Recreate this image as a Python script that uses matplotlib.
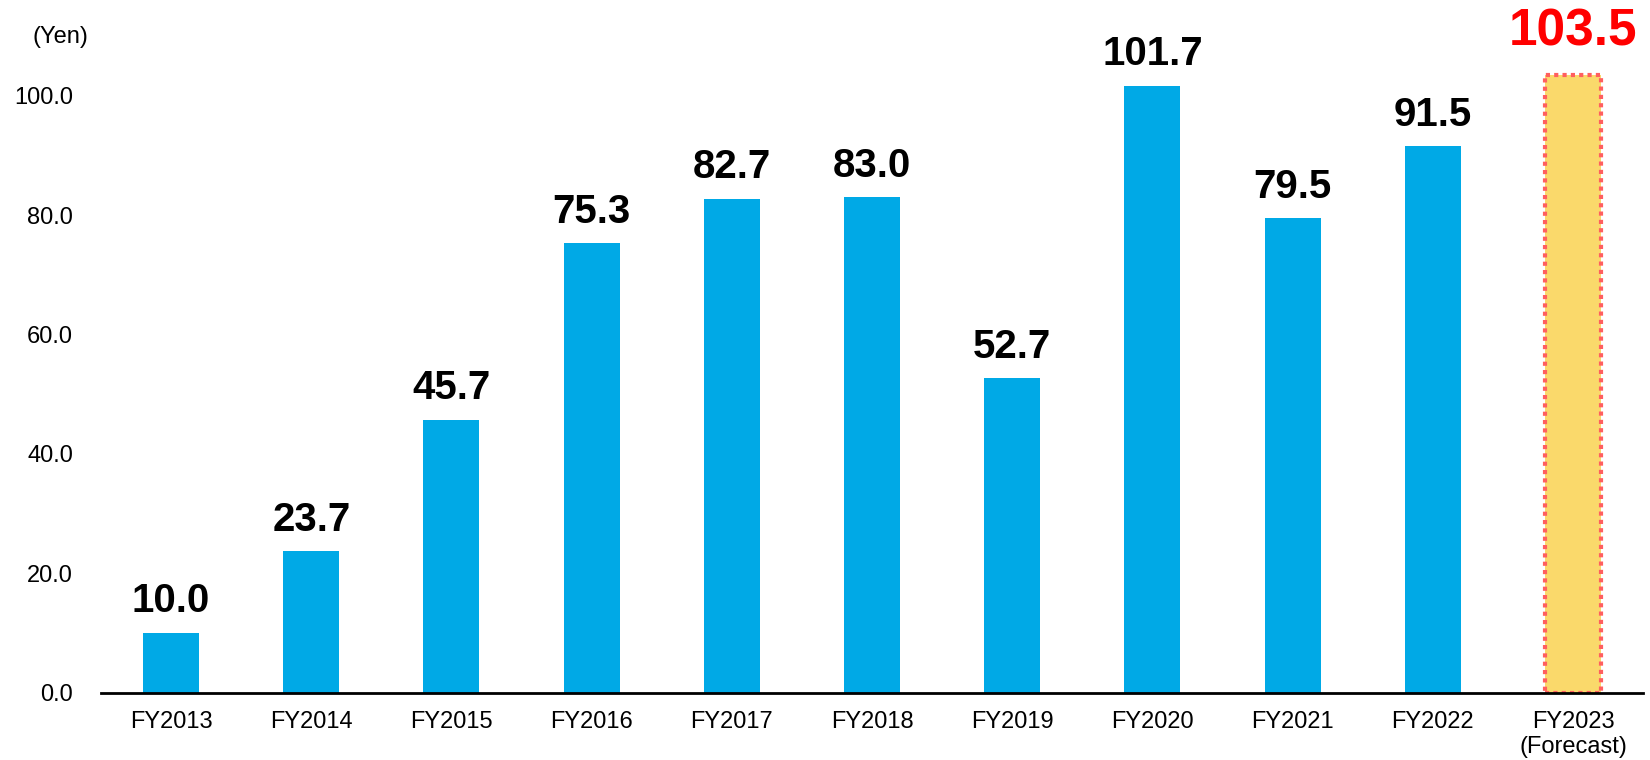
import matplotlib.pyplot as plt

plt.rcParams['font.family'] = ['Liberation Sans', 'DejaVu Sans']

years = ['FY2013', 'FY2014', 'FY2015', 'FY2016', 'FY2017', 'FY2018',
         'FY2019', 'FY2020', 'FY2021', 'FY2022', 'FY2023\n(Forecast)']
values = [10.0, 23.7, 45.7, 75.3, 82.7, 83.0, 52.7, 101.7, 79.5, 91.5, 103.5]
yticks = [0, 20, 40, 60, 80, 100]

fig = plt.figure(figsize=(16.5, 7.6), dpi=100)
ax = fig.add_axes([0.0612, 0.0886, 0.9346, 0.864])

x = list(range(len(years)))
# actual results
ax.bar(x[:-1], values[:-1], width=0.4, color='#00A9E6', zorder=2)
# forecast bar, yellow with dotted red outline
ax.bar(x[-1], values[-1], width=0.4, color='#FAD96B', edgecolor='#FF5F5F',
       linewidth=3, linestyle=(0, (1, 1)), zorder=2)

for i, v in enumerate(values[:-1]):
    ax.annotate(f'{v:.1f}', (i, v), xytext=(0, 9), textcoords='offset points',
                ha='center', va='bottom', fontsize=29, fontweight='bold', color='black')
ax.annotate(f'{values[-1]:.1f}', (x[-1], values[-1]), xytext=(0, 13),
            textcoords='offset points', ha='center', va='bottom',
            fontsize=37, fontweight='bold', color='#FF0000')

ax.set_xlim(-0.5, len(years) - 0.5)
ax.set_ylim(0, 110)
ax.set_yticks(yticks)
ax.set_yticklabels([f'{t:.1f}' for t in yticks])
ax.set_xticks(x)
ax.set_xticklabels(years)
ax.tick_params(axis='both', length=0, labelsize=17)
ax.tick_params(axis='y', pad=20)
ax.tick_params(axis='x', pad=13)

for s in ['top', 'right', 'left']:
    ax.spines[s].set_visible(False)
ax.spines['bottom'].set_linewidth(2)
ax.spines['bottom'].set_zorder(3)

fig.text(60 / 1650, 1 - 37 / 760, '(Yen)', ha='center', va='center', fontsize=17)

fig.savefig('out.png', dpi=100)
